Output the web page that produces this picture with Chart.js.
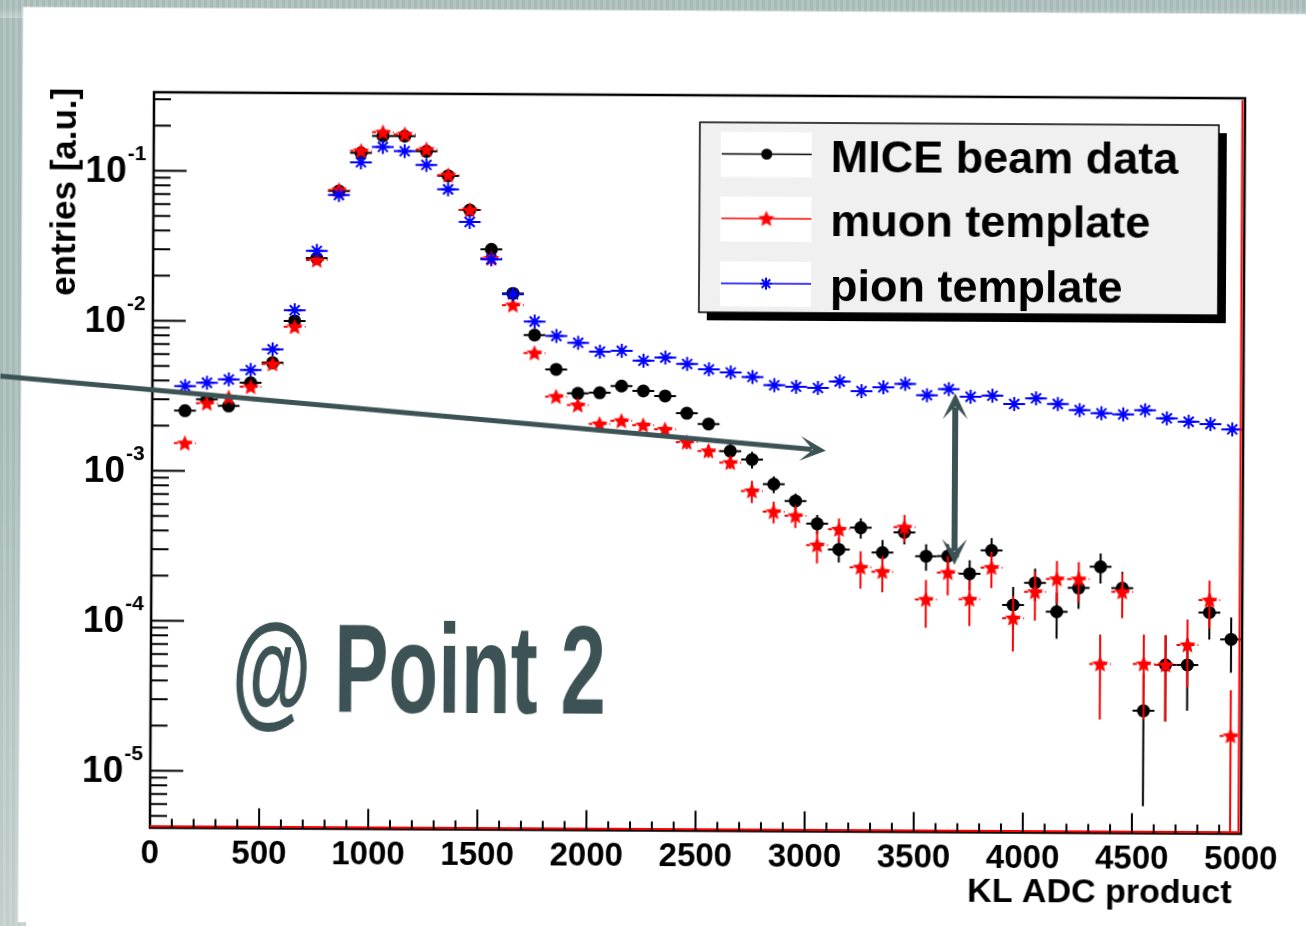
<!DOCTYPE html>
<html>
<head>
<meta charset="utf-8">
<title>KL ADC product</title>
<script src="https://cdn.jsdelivr.net/npm/chart.js@4.4.0/dist/chart.umd.min.js"></script>
<style>
  html, body { margin: 0; padding: 0; }
  body {
    width: 1306px;
    height: 926px;
    overflow: hidden;
    background: #ffffff;
    position: relative;
  }
  /* grey slide border, striped like the photo */
  .strip {
    position: absolute;
    background:
      linear-gradient(180deg, rgba(255,255,255,0) 45%, rgba(255,255,255,0.3) 100%),
      repeating-linear-gradient(90deg, #a6bab8 0px, #a6bab8 3px, #b3c4c2 3px, #b3c4c2 6px);
  }
  #stripLeft { left: 0; top: 0; width: 26px; height: 926px; }
  #stripTop { left: 0; top: 0; width: 1306px; height: 18px; }
  /* the slide photo is turned by a hair, so is the plot */
  #klChart {
    position: absolute;
    left: 0;
    top: 0;
    transform: rotate(0.32deg);
    transform-origin: 653px 463px;
  }
</style>
</head>
<body>
<div class="strip" id="stripLeft"></div>
<div class="strip" id="stripTop"></div>
<canvas id="klChart" width="1306" height="926"></canvas>
<script>
// KL ADC product histogram, bin width 100 -> bin centres
const binCentres = [150, 250, 350, 450, 550, 650, 750, 850, 950, 1050,
  1150, 1250, 1350, 1450, 1550, 1650, 1750, 1850, 1950, 2050,
  2150, 2250, 2350, 2450, 2550, 2650, 2750, 2850, 2950, 3050,
  3150, 3250, 3350, 3450, 3550, 3650, 3750, 3850, 3950, 4050,
  4150, 4250, 4350, 4450, 4550, 4650, 4750, 4850, 4950];
const binHalfWidth = 50;

// MICE beam data (black dots)
const miceData = [2.52e-3, 3.01e-3, 2.72e-3, 3.89e-3, 5.31e-3, 1.01e-2, 2.65e-2, 7.44e-2, 0.134, 0.174,
  0.174, 0.138, 0.095, 0.0562, 0.0308, 0.0157, 8.29e-3, 4.91e-3, 3.40e-3, 3.44e-3,
  3.82e-3, 3.55e-3, 3.29e-3, 2.53e-3, 2.15e-3, 1.42e-3, 1.25e-3, 8.58e-4, 6.64e-4, 4.69e-4,
  3.17e-4, 4.43e-4, 3.03e-4, 4.14e-4, 2.88e-4, 2.89e-4, 2.21e-4, 3.16e-4, 1.37e-4, 1.93e-4,
  1.24e-4, 1.79e-4, 2.48e-4, 1.79e-4, 2.73e-5, 5.53e-5, 5.54e-5, 1.24e-4, 8.24e-5];
const miceErr = [0, 0, 0, 0, 0, 0, 0, 0, 0, 0,
  0, 0, 0, 0, 0, 0, 0, 0, 0, 0,
  0, 0, 0, 0, 0, 1.9e-4, 1.6e-4, 1.1e-4, 8.1e-5, 6.9e-5,
  5.8e-5, 6.8e-5, 6.5e-5, 7.0e-5, 5.8e-5, 5.8e-5, 5.0e-5, 6.6e-5, 4.4e-5, 4.7e-5,
  4.2e-5, 4.9e-5, 5.6e-5, 5.1e-5, 2.1e-5, 3.2e-5, 2.8e-5, 4.2e-5, 3.3e-5];

// muon template (red stars)
const muonTemplate = [1.53e-3, 2.83e-3, 3.1e-3, 3.66e-3, 5.2e-3, 9.23e-3, 2.57e-2, 7.55e-2, 0.138, 0.184,
  0.179, 0.142, 0.096, 0.0562, 0.0268, 0.0131, 6.29e-3, 3.23e-3, 2.84e-3, 2.13e-3,
  2.24e-3, 2.10e-3, 1.97e-3, 1.62e-3, 1.42e-3, 1.19e-3, 7.71e-4, 5.62e-4, 5.29e-4, 3.38e-4,
  4.31e-4, 2.41e-4, 2.26e-4, 4.48e-4, 1.48e-4, 2.24e-4, 1.49e-4, 2.43e-4, 1.12e-4, 1.68e-4,
  2.05e-4, 2.05e-4, 5.58e-5, 1.69e-4, 5.6e-5, 5.53e-5, 7.53e-5, 1.50e-4, 1.87e-5];
const muonErr = [0, 0, 0, 0, 0, 0, 0, 0, 0, 0,
  0, 0, 0, 0, 0, 0, 0, 0, 0, 0,
  0, 0, 0, 1.6e-4, 1.4e-4, 1.1e-4, 1.3e-4, 9.3e-5, 9.0e-5, 8.3e-5,
  7.9e-5, 6.7e-5, 6.1e-5, 9.3e-5, 5.2e-5, 6.6e-5, 5.0e-5, 6.6e-5, 4.5e-5, 6.0e-5,
  6.5e-5, 6.1e-5, 3.2e-5, 5.6e-5, 3.2e-5, 3.2e-5, 3.6e-5, 5.3e-5, 1.9e-5];

// pion template (blue asterisks)
const pionTemplate = [3.68e-3, 3.88e-3, 4.09e-3, 4.73e-3, 6.52e-3, 1.19e-2, 2.96e-2, 7.0e-2, 0.116, 0.147,
  0.138, 0.112, 7.71e-2, 4.68e-2, 2.64e-2, 1.55e-2, 1.02e-2, 8.19e-3, 7.40e-3, 6.46e-3,
  6.57e-3, 5.64e-3, 5.93e-3, 5.39e-3, 4.97e-3, 4.75e-3, 4.44e-3, 3.92e-3, 3.84e-3, 3.77e-3,
  4.17e-3, 3.61e-3, 3.83e-3, 4.04e-3, 3.41e-3, 3.75e-3, 3.34e-3, 3.40e-3, 3.0e-3, 3.28e-3,
  3.01e-3, 2.75e-3, 2.62e-3, 2.58e-3, 2.76e-3, 2.44e-3, 2.32e-3, 2.24e-3, 2.07e-3];

// axes
const xMin = 0, xMax = 5000;
const yMin = 4.17e-6, yMax = 0.334;
const xTickLabels = [0, 500, 1000, 1500, 2000, 2500, 3000, 3500, 4000, 4500, 5000];
const xMinorStep = 100;
const yDecadeExponents = [-1, -2, -3, -4, -5];
const yMinorMultipliers = [2, 3, 4, 5, 6, 7, 8, 9];
const xTitle = 'KL ADC product';
const yTitle = 'entries [a.u.]';

// slide annotations (in data units): slanted arrow and double arrow
const arrowSlanted = { from: [-699, 4.22e-3], to: [3088, 1.44e-3] };
const arrowGap = { from: [3680, 3.52e-3], to: [3680, 2.52e-4] };
const slideLabel = '@ Point 2';
const slideColor = '#3c5254';

const FONT = '"Liberation Sans", Arial, Helvetica, sans-serif';

// five point star, ROOT marker 29 look-alike
function makeStarImage(color, outer, inner) {
  const size = Math.ceil(outer * 2 + 2);
  const c = document.createElement('canvas');
  c.width = size;
  c.height = size;
  const g = c.getContext('2d');
  g.translate(size / 2, size / 2 + 0.5);
  g.beginPath();
  for (let k = 0; k < 10; k++) {
    const r = k % 2 === 0 ? outer : inner;
    const a = -Math.PI / 2 + k * Math.PI / 5;
    g.lineTo(r * Math.cos(a), r * Math.sin(a));
  }
  g.closePath();
  g.fillStyle = color;
  g.fill();
  return c;
}
const redStar = makeStarImage('#ff0000', 8.5, 3.9);

function toPoints(values) {
  return binCentres.map((x, i) => ({ x: x, y: values[i] }));
}

// error bars: full bin width horizontally, +-err vertically
function drawErrorBars(chart, ds) {
  const ctx = chart.ctx;
  const area = chart.chartArea;
  const xs = chart.scales.x;
  const ys = chart.scales.y;
  ctx.save();
  ctx.beginPath();
  ctx.rect(area.left, area.top, area.right - area.left, area.bottom - area.top);
  ctx.clip();
  ctx.strokeStyle = ds.barColor;
  ctx.lineWidth = 2;
  ds.data.forEach((pt, i) => {
    const px = xs.getPixelForValue(pt.x);
    const py = ys.getPixelForValue(pt.y);
    ctx.setLineDash(ds.barDash);
    ctx.beginPath();
    ctx.moveTo(xs.getPixelForValue(pt.x - binHalfWidth), py);
    ctx.lineTo(xs.getPixelForValue(pt.x + binHalfWidth), py);
    ctx.stroke();
    const err = ds.yErr ? ds.yErr[i] : 0;
    if (err > 0) {
      ctx.setLineDash([]);
      const lo = pt.y - err > yMin ? ys.getPixelForValue(pt.y - err) : area.bottom;
      const hi = ys.getPixelForValue(pt.y + err);
      ctx.beginPath();
      ctx.moveTo(px, lo);
      ctx.lineTo(px, hi);
      ctx.stroke();
    }
  });
  ctx.restore();
}

function drawFrame(chart) {
  const ctx = chart.ctx;
  const a = chart.chartArea;
  const xs = chart.scales.x;
  const ys = chart.scales.y;
  ctx.save();
  ctx.strokeStyle = '#000';
  ctx.lineWidth = 2.5;
  ctx.strokeRect(a.left, a.top, a.right - a.left, a.bottom - a.top);

  // red histogram edge along bottom and right
  ctx.strokeStyle = '#ff0000';
  ctx.lineWidth = 2;
  ctx.beginPath();
  ctx.moveTo(a.left, a.bottom - 1.5);
  ctx.lineTo(a.right - 2.5, a.bottom - 1.5);
  ctx.lineTo(a.right - 2.5, a.top + 2);
  ctx.stroke();

  // y ticks (inside, log)
  ctx.strokeStyle = '#000';
  ctx.lineWidth = 2;
  for (let e = -6; e <= 0; e++) {
    [1].concat(yMinorMultipliers).forEach(m => {
      const v = m * Math.pow(10, e);
      if (v < yMin || v > yMax) return;
      const py = ys.getPixelForValue(v);
      const len = m === 1 ? 33 : 17;
      ctx.beginPath();
      ctx.moveTo(a.left, py);
      ctx.lineTo(a.left + len, py);
      ctx.stroke();
    });
  }
  // x ticks
  for (let v = xMin + xMinorStep; v < xMax; v += xMinorStep) {
    const px = xs.getPixelForValue(v);
    const len = v % 500 === 0 ? 20 : 9;
    ctx.beginPath();
    ctx.moveTo(px, a.bottom);
    ctx.lineTo(px, a.bottom - len);
    ctx.stroke();
  }

  // tick labels
  ctx.fillStyle = '#000';
  ctx.font = 'bold 33px ' + FONT;
  ctx.textAlign = 'center';
  ctx.textBaseline = 'middle';
  xTickLabels.forEach(v => {
    ctx.fillText(String(v), xs.getPixelForValue(v), a.bottom + 26);
  });
  yDecadeExponents.forEach(e => {
    const py = ys.getPixelForValue(Math.pow(10, e));
    ctx.font = 'bold 37px ' + FONT;
    ctx.textAlign = 'right';
    ctx.fillText('10', a.left - 27, py + 1);
    ctx.font = 'bold 21px ' + FONT;
    ctx.textAlign = 'left';
    ctx.fillText(String(e), a.left - 26, py - 16);
  });

  // axis titles
  ctx.font = 'bold 34px ' + FONT;
  ctx.textAlign = 'right';
  ctx.fillText(xTitle, a.right - 9, a.bottom + 60);
  ctx.save();
  ctx.translate(a.left - 88, a.top - 4);
  ctx.rotate(-Math.PI / 2);
  ctx.font = 'bold 35px ' + FONT;
  ctx.textAlign = 'right';
  ctx.fillText(yTitle, 0, 0);
  ctx.restore();
  ctx.restore();
}

function drawAsterisk(ctx, x, y, r) {
  ctx.beginPath();
  for (let k = 0; k < 4; k++) {
    const a = k * Math.PI / 4;
    ctx.moveTo(x - r * Math.cos(a), y - r * Math.sin(a));
    ctx.lineTo(x + r * Math.cos(a), y + r * Math.sin(a));
  }
  ctx.stroke();
}

function drawLegend(chart) {
  const ctx = chart.ctx;
  const box = { left: 698, top: 122, right: 1217, bottom: 312 };
  const rows = [153.5, 218, 283];
  const w = box.right - box.left;
  const h = box.bottom - box.top;
  ctx.save();
  ctx.fillStyle = '#000';
  ctx.fillRect(box.left + 8, box.top + 8, w, h);
  ctx.fillStyle = '#f0f0f0';
  ctx.fillRect(box.left, box.top, w, h);
  ctx.strokeStyle = '#000';
  ctx.lineWidth = 1.5;
  ctx.strokeRect(box.left, box.top, w, h);

  chart.data.datasets.forEach((ds, i) => {
    const cy = rows[i];
    ctx.fillStyle = '#ffffff';
    ctx.fillRect(719, cy - 22, 91, 45);
    ctx.strokeStyle = ds.barColor;
    ctx.lineWidth = 1.5;
    ctx.setLineDash([]);
    ctx.beginPath();
    ctx.moveTo(720, cy);
    ctx.lineTo(810, cy);
    ctx.stroke();
    if (ds.legendMarker === 'dot') {
      ctx.fillStyle = '#000';
      ctx.beginPath();
      ctx.arc(765, cy, 5.5, 0, Math.PI * 2);
      ctx.fill();
    } else if (ds.legendMarker === 'star') {
      ctx.drawImage(redStar, 765 - redStar.width / 2, cy - redStar.height / 2);
    } else {
      ctx.lineWidth = 2;
      drawAsterisk(ctx, 765, cy, 6);
    }
    ctx.fillStyle = '#000';
    ctx.font = 'bold 45px ' + FONT;
    ctx.textAlign = 'left';
    ctx.textBaseline = 'alphabetic';
    ctx.fillText(ds.label, 829, cy + 17);
  });
  ctx.restore();
}

function drawArrowHead(ctx, tx, ty, ux, uy) {
  // ux, uy: unit vector pointing into the tip
  const len = 26, half = 12.5, notch = 13;
  const nx = -uy, ny = ux;
  ctx.beginPath();
  ctx.moveTo(tx, ty);
  ctx.lineTo(tx - len * ux + half * nx, ty - len * uy + half * ny);
  ctx.lineTo(tx - notch * ux, ty - notch * uy);
  ctx.lineTo(tx - len * ux - half * nx, ty - len * uy - half * ny);
  ctx.closePath();
  ctx.fill();
}

function drawArrow(chart, arrow, width, bothEnds) {
  const ctx = chart.ctx;
  const xs = chart.scales.x;
  const ys = chart.scales.y;
  const x0 = xs.getPixelForValue(arrow.from[0]);
  const y0 = ys.getPixelForValue(arrow.from[1]);
  const x1 = xs.getPixelForValue(arrow.to[0]);
  const y1 = ys.getPixelForValue(arrow.to[1]);
  const d = Math.hypot(x1 - x0, y1 - y0);
  const ux = (x1 - x0) / d, uy = (y1 - y0) / d;
  ctx.save();
  ctx.strokeStyle = slideColor;
  ctx.fillStyle = slideColor;
  ctx.lineWidth = width;
  ctx.beginPath();
  ctx.moveTo(bothEnds ? x0 + 14 * ux : x0, bothEnds ? y0 + 14 * uy : y0);
  ctx.lineTo(x1 - 14 * ux, y1 - 14 * uy);
  ctx.stroke();
  drawArrowHead(ctx, x1, y1, ux, uy);
  if (bothEnds) drawArrowHead(ctx, x0, y0, -ux, -uy);
  ctx.restore();
}

function drawSlideLabel(chart) {
  const ctx = chart.ctx;
  ctx.save();
  ctx.font = 'bold 126px ' + FONT;
  const targetWidth = 374;
  const sx = targetWidth / ctx.measureText(slideLabel).width;
  ctx.translate(233, 714);
  ctx.scale(sx, 1);
  ctx.fillStyle = slideColor;
  ctx.textBaseline = 'alphabetic';
  ctx.fillText(slideLabel, 0, 0);
  ctx.restore();
}

const rootStylePlugin = {
  id: 'rootStyle',
  beforeDraw(chart) {
    const ctx = chart.ctx;
    ctx.save();
    ctx.fillStyle = '#ffffff';
    ctx.fillRect(20.5, 10.5, chart.width, chart.height);
    ctx.restore();
  },
  beforeDatasetDraw(chart, args) {
    drawErrorBars(chart, chart.data.datasets[args.index]);
  },
  afterDatasetsDraw(chart) {
    drawFrame(chart);
    drawLegend(chart);
    drawSlideLabel(chart);
    drawArrow(chart, arrowSlanted, 5, false);
    drawArrow(chart, arrowGap, 6, true);
  }
};

const klChart = new Chart(document.getElementById('klChart'), {
  type: 'scatter',
  data: {
    datasets: [
      {
        label: 'MICE beam data',
        data: toPoints(miceData),
        yErr: miceErr,
        barColor: '#000000',
        barDash: [],
        legendMarker: 'dot',
        pointStyle: 'circle',
        pointRadius: 6.5,
        pointBackgroundColor: '#000000',
        pointBorderColor: '#000000',
        pointBorderWidth: 0,
        order: 3
      },
      {
        label: 'muon template',
        data: toPoints(muonTemplate),
        yErr: muonErr,
        barColor: '#ff0000',
        barDash: [4, 3],
        legendMarker: 'star',
        pointStyle: redStar,
        pointRadius: 8,
        order: 2
      },
      {
        label: 'pion template',
        data: toPoints(pionTemplate),
        yErr: null,
        barColor: '#0000ff',
        barDash: [],
        legendMarker: 'asterisk',
        pointStyle: 'star',
        pointRadius: 7,
        pointBorderColor: '#0000ff',
        pointBackgroundColor: '#0000ff',
        pointBorderWidth: 2,
        order: 1
      }
    ]
  },
  options: {
    responsive: false,
    animation: false,
    devicePixelRatio: 1,
    events: [],
    layout: {
      padding: { left: 152, right: 63, top: 95, bottom: 95.5 }
    },
    scales: {
      x: { type: 'linear', display: false, min: xMin, max: xMax, bounds: 'data' },
      y: { type: 'logarithmic', display: false, min: yMin, max: yMax, bounds: 'data' }
    },
    plugins: {
      legend: { display: false },
      tooltip: { enabled: false },
      title: { display: false }
    }
  },
  plugins: [rootStylePlugin]
});
</script>
</body>
</html>
